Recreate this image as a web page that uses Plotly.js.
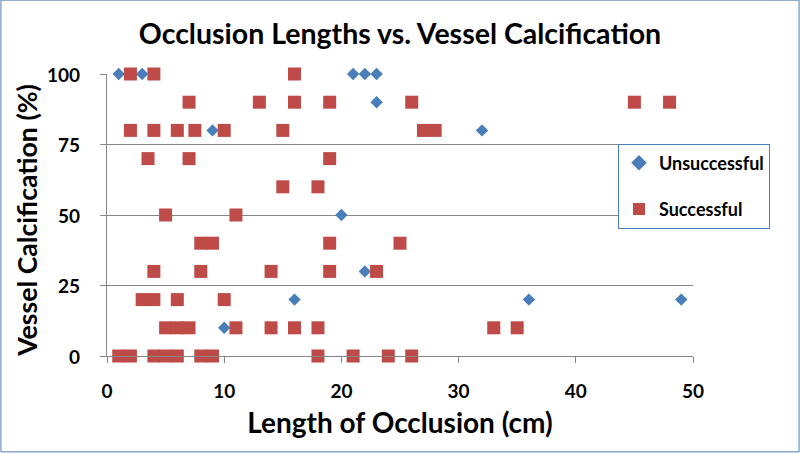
<!DOCTYPE html>
<html>
<head>
<meta charset="utf-8">
<script src="https://cdn.plot.ly/plotly-3.0.1.min.js"></script>
<style>html,body{margin:0;padding:0;background:#fff;}#chart{width:800px;height:453px;}</style>
</head>
<body>
<div id="chart"></div>
<script>
// Unsuccessful procedures
const unsuccessfulLength = [1, 3, 21, 22, 23, 23, 9, 32, 20, 22, 16, 36, 49, 10];
const unsuccessfulCalc   = [100, 100, 100, 100, 100, 90, 80, 80, 50, 30, 20, 20, 20, 10];

// Successful procedures
const successfulLength = [
  2, 4, 16,
  7, 13, 16, 19, 26, 45, 48,
  2, 4, 6, 7.5, 10, 15, 27, 28,
  3.5, 7, 19,
  15, 18,
  5, 11,
  8, 9, 19, 25,
  4, 8, 14, 19, 23,
  3, 4, 6, 10,
  5, 6, 7, 11, 14, 16, 18, 33, 35,
  1, 2, 4, 5, 6, 8, 9, 18, 21, 24, 26
];
const successfulCalc = [
  100, 100, 100,
  90, 90, 90, 90, 90, 90, 90,
  80, 80, 80, 80, 80, 80, 80, 80,
  70, 70, 70,
  60, 60,
  50, 50,
  40, 40, 40, 40,
  30, 30, 30, 30, 30,
  20, 20, 20, 20,
  10, 10, 10, 10, 10, 10, 10, 10, 10,
  0, 0, 0, 0, 0, 0, 0, 0, 0, 0, 0
];

const xTicks = [0, 10, 20, 30, 40, 50];
const yTicks = [0, 25, 50, 75, 100];

const FONT = 'Lato, "Open Sans", sans-serif';

const traces = [
  {
    type: 'scatter', mode: 'markers', name: '<b>Unsuccessful</b>', legendgroup: 'u',
    x: unsuccessfulLength, y: unsuccessfulCalc,
    marker: {symbol: 'diamond', size: 9.5, color: '#4a7ebb', line: {width: 0}},
    cliponaxis: false
  },
  {
    type: 'scatter', mode: 'markers', name: '<b>Successful</b>', legendgroup: 's',
    x: successfulLength, y: successfulCalc,
    marker: {symbol: 'square', size: 13, color: '#be4b48', line: {width: 0}},
    cliponaxis: false
  }
];

// y tick labels placed on the y axis scale, offset from the axis like the original
const yTickLabels = yTicks.map(v => ({
  text: '<b>' + v + '</b>', xref: 'paper', yref: 'y', x: -0.042, y: v,
  xanchor: 'right', yanchor: 'middle', showarrow: false,
  font: {family: FONT, size: 19, color: '#000', weight: 'bold'}
}));

const layout = {
  width: 800, height: 453,
  margin: {l: 107, r: 107, t: 74, b: 97},
  paper_bgcolor: '#fff', plot_bgcolor: '#fff',
  font: {family: FONT, color: '#000'},
  title: {
    text: '<b>Occlusion Lengths vs. Vessel Calcification</b>',
    font: {family: FONT, size: 28.5, color: '#000'},
    x: 0.5, xanchor: 'center', y: 0.925, yanchor: 'middle', xref: 'paper', yref: 'container'
  },
  xaxis: {
    range: [0, 50], tickvals: xTicks, ticktext: xTicks.map(v => '<b>' + v + '</b>'),
    showgrid: false, zeroline: false,
    showline: true, linecolor: '#868686', linewidth: 1,
    ticks: 'outside', ticklen: 6, tickcolor: '#868686', ticklabelstandoff: 12,
    tickfont: {family: FONT, size: 19, color: '#000', weight: 'bold'},
    title: {text: '<b>Length of Occlusion (cm)</b>', font: {family: FONT, size: 28, color: '#000'}, standoff: 12},
    fixedrange: true
  },
  yaxis: {
    range: [0, 100], tickvals: yTicks, showticklabels: false,
    showgrid: true, gridcolor: '#868686', gridwidth: 1, zeroline: false,
    showline: true, linecolor: '#868686', linewidth: 1,
    ticks: 'outside', ticklen: 6, tickcolor: '#868686',
    fixedrange: true
  },
  annotations: yTickLabels.concat([{
    text: '<b>Vessel Calcification (%)</b>', textangle: -90,
    xref: 'paper', yref: 'paper', x: -0.1359, y: 0.4805,
    xanchor: 'center', yanchor: 'middle', showarrow: false,
    font: {family: FONT, size: 26.7, color: '#000'}
  }]),
  legend: {
    x: 0.872, xanchor: 'left', y: 0.7535, yanchor: 'top',
    bordercolor: '#4a7ebb', borderwidth: 1, bgcolor: '#fff',
    font: {family: FONT, size: 18, color: '#000'},
    tracegroupgap: 20, itemsizing: 'constant'
  },
  shapes: [{
    type: 'rect', xref: 'paper', yref: 'paper',
    x0: -0.181, x1: 1.181, y0: -0.340, y1: 1.262,
    line: {color: '#4a7ebb', width: 1}, layer: 'below'
  }]
};

Plotly.newPlot('chart', traces, layout, {displayModeBar: false, staticPlot: true});
</script>
</body>
</html>
